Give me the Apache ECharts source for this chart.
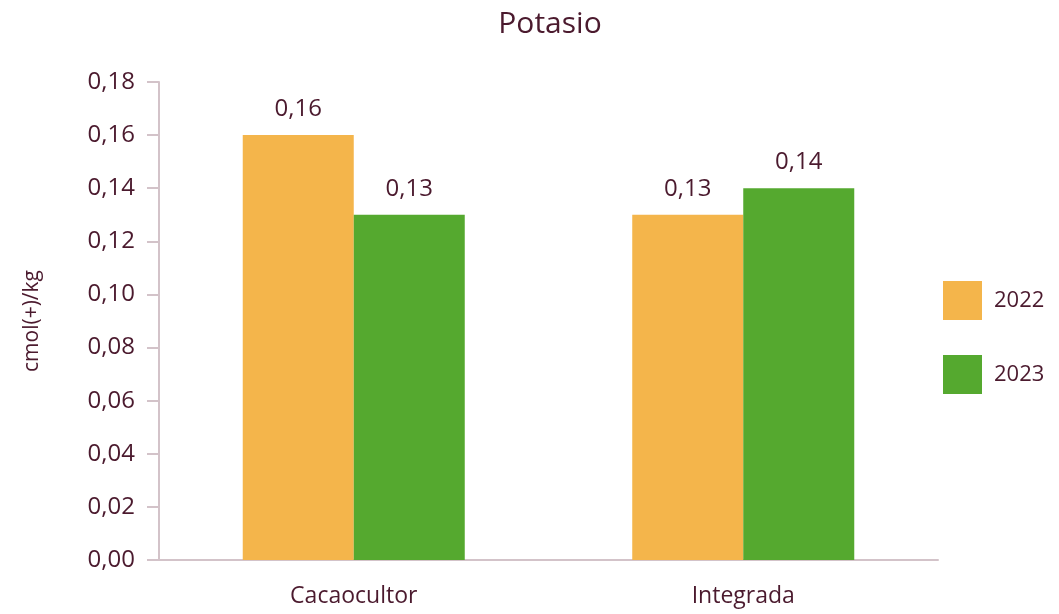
<!DOCTYPE html>
<html>
<head>
<meta charset="utf-8">
<script src="https://cdn.jsdelivr.net/npm/echarts@6/dist/echarts.min.js"></script>
<style>
  html, body { margin: 0; padding: 0; background: #fff; }
  #chart { width: 1059px; height: 614px; }
</style>
</head>
<body>
<div id="chart"></div>
<script>
// datos del gráfico
const categories = ['Cacaocultor', 'Integrada']
const years = ['2022', '2023']
const values2022 = [0.16, 0.13]
const values2023 = [0.13, 0.14]

const textColor = '#4B1A2E'
const axisColor = '#D3C3C9'
const font = 'Open Sans'

const fmt = v => v.toFixed(2).replace('.', ',')

const chart = echarts.init(document.getElementById('chart'))

chart.setOption({
  animation: false,
  title: {
    text: 'Potasio',
    left: 545,
    textAlign: 'center',
    top: 4,
    textStyle: { color: textColor, fontFamily: font, fontSize: 30, fontWeight: 'normal' }
  },
  legend: {
    orient: 'vertical',
    left: 938,
    top: 276,
    itemWidth: 39,
    itemHeight: 39,
    itemGap: 35,
    icon: 'rect',
    data: years,
    textStyle: { color: textColor, fontFamily: font, fontSize: 22, padding: [0, 0, 0, 7] }
  },
  grid: { left: 159, right: 121, top: 82, bottom: 54 },
  xAxis: {
    type: 'category',
    data: categories,
    axisLine: { lineStyle: { color: axisColor, width: 2 } },
    axisTick: { length: 15, lineStyle: { color: axisColor, width: 2 } },
    axisLabel: { color: textColor, fontFamily: font, fontSize: 23, margin: 25 }
  },
  yAxis: {
    type: 'value',
    min: 0,
    max: 0.18,
    interval: 0.02,
    name: 'cmol(+)/kg',
    nameLocation: 'middle',
    nameGap: 116,
    nameTextStyle: { color: textColor, fontFamily: font, fontSize: 21 },
    axisLine: { show: true, lineStyle: { color: axisColor, width: 2 } },
    axisTick: { show: true, length: 12, lineStyle: { color: axisColor, width: 2 } },
    splitLine: { show: false },
    axisLabel: { color: textColor, fontFamily: font, fontSize: 24, margin: 24, formatter: fmt }
  },
  series: [
    {
      name: '2022',
      type: 'bar',
      data: values2022,
      barGap: 0,
      barCategoryGap: '43%',
      itemStyle: { color: '#F4B54B' },
      label: { show: true, position: 'top', distance: 14, color: textColor, fontFamily: font, fontSize: 24, formatter: p => fmt(p.value) }
    },
    {
      name: '2023',
      type: 'bar',
      data: values2023,
      itemStyle: { color: '#55A92F' },
      label: { show: true, position: 'top', distance: 14, color: textColor, fontFamily: font, fontSize: 24, formatter: p => fmt(p.value) }
    }
  ]
})
</script>
</body>
</html>
